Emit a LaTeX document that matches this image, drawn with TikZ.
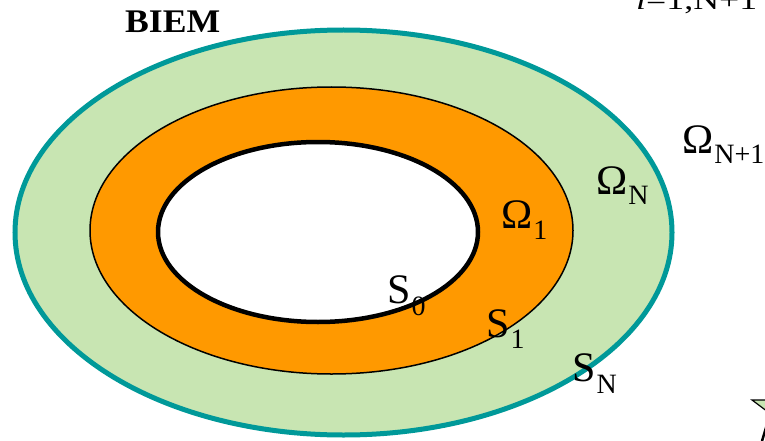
\documentclass[tikz,border=0pt]{standalone}
\usepackage{graphicx}
\usepackage{fontspec}
\setmainfont{Liberation Serif}
\usetikzlibrary{positioning}
\definecolor{tealline}{RGB}{0,153,153}
\definecolor{greenfill}{RGB}{200,229,178}
\definecolor{orangefill}{RGB}{255,153,0}
\newcommand{\sublbl}[3]{#1\kern1pt\raisebox{-#3pt}{\fontsize{28}{28}\selectfont #2}}
\tikzset{
  region/.style={
    line width=1.5pt,
    draw=black
  },
  bigletter/.style={
    inner sep=0pt,
    anchor=base west,
    font=\fontsize{42}{42}\selectfont
  },
  title/.style={
    inner sep=0pt,
    anchor=base west,
    font=\fontsize{33}{33}\selectfont\bfseries
  }
}
\begin{document}
\begin{tikzpicture}[x=1pt,y=-1pt]
    \useasboundingbox (0,0) rectangle (765,441);
    % annular regions
    \filldraw[fill=greenfill,draw=tealline,line width=5pt] (343.5,232.5) ellipse [x radius=328.5pt, y radius=202.5pt];
    \filldraw[region,fill=orangefill] (331.5,230.5) ellipse [x radius=241.5pt, y radius=143.5pt];
    \filldraw[region,fill=white,line width=4.5pt] (318,232) ellipse [x radius=160pt, y radius=90pt];
    % labels
    \node[title] (biem) at (125,33) {\scalebox{1.08}[1]{BIEM}};
    \node[bigletter] (omNN) at (682,153) {\sublbl{Ω}{N+1}{10}};
    \node[bigletter] (omN) at (596,194) {\sublbl{Ω}{N}{10}};
    \node[bigletter] (om1) at (501,228) {\sublbl{Ω}{1}{11}};
    \node[bigletter] (s0) at (387,303) {\sublbl{S}{0}{12}};
    \node[bigletter] (s1) at (486,337) {\sublbl{S}{1}{11}};
    \node[bigletter] (sN) at (572,381) {\sublbl{S}{N}{12}};
    % fragments cut by the border
    \begin{scope}
      \clip (0,0) rectangle (765,441);
      \node[inner sep=0pt,anchor=base west,font=\fontsize{28}{28}\selectfont] (sumtxt) at (636,10) {\scalebox{1.28}[1]{\textit{i}=1,N+1}};
      \filldraw[fill=greenfill,draw=black,line width=1.2pt] (752,400) -- (768,400) -- (768,412) -- cycle;
      \draw[line width=2.5pt] (768,421) -- (762,441);
    \end{scope}
\end{tikzpicture}
\end{document}
